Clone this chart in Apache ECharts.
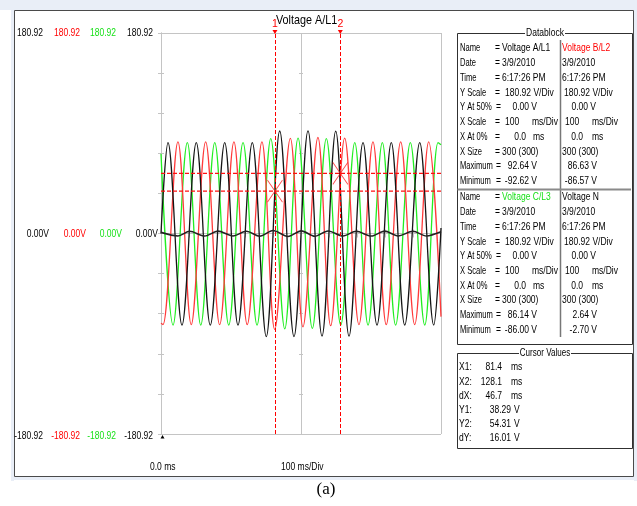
<!DOCTYPE html>
<html><head><meta charset="utf-8">
<script src="https://cdn.jsdelivr.net/npm/echarts@6/dist/echarts.min.js"></script>
<style>html,body{margin:0;padding:0;background:#fff}#c{width:637px;height:506px}</style>
</head><body><div id="c"></div><script>
// ---------- data ----------
const yScaleMax = 180.92;           // V per half-screen
const xMinMs = 0, xMaxMs = 200, xDivMs = 100;
const yTickValues = [180.92, 0, -180.92];

// Phase A/L1 (black): boundary points, peaks and troughs [ms]/[V]
const phaseA_t = [0, 5.0, 15.0, 25.2, 35.2, 45.5, 55.0, 65.2, 75.2, 84.8, 95.0, 105.0, 115.0, 124.8, 134.3, 144.3, 154.3, 164.5, 174.1, 184.8, 194.8, 200];
const phaseA_v = [0, 82, -82.6, 82, -82.6, 82, -82.6, 82, -93.0, 92.5, -93.0, 92.64, -92.5, 92.4, -92.62, 82, -82.6, 82, -82.6, 82, -82.6, 5];
// Phase B/L2 (red)
const phaseB_t = [0, 1.4, 12.1, 21.6, 31.9, 41.9, 52.1, 61.6, 72.1, 81.2, 92.4, 101.4, 112.1, 121.2, 131.2, 141.4, 151.4, 160.9, 171.2, 181.2, 191.2, 200];
const phaseB_v = [-81, -82.2, 82.6, -82.2, 82.6, -82.2, 82.6, -82.2, 82.6, -86.57, 85.8, -84.2, 86.63, -83.2, 86.0, -82.2, 82.6, -82.2, 82.6, -82.2, 82.6, -75];
// Phase C/L3 (green)
const phaseC_t = [0, 8.6, 18.8, 28.4, 38.4, 48.4, 58.6, 68.6, 78.4, 88.4, 97.9, 108.1, 118.1, 128.4, 138.4, 147.9, 158.1, 167.6, 178.1, 188.4, 197.9, 200];
const phaseC_v = [72, -82.6, 82, -82.6, 82, -82.6, 82, -82.6, 85.6, -86.0, 86.14, -85.6, 85.6, -82.6, 82, -82.6, 82, -82.6, 82, -82.6, 82, 80];
// Neutral N (black, small ripple)
const neutral_t = [0, 12.1, 20.5, 31.2, 40.7, 51.4, 61.0, 70.5, 80.0, 90.7, 100.2, 109.8, 119.3, 130.0, 139.5, 150.2, 159.8, 169.3, 180.0, 189.5, 200];
const neutral_v = [1.0, -2.2, 2.0, -2.3, 2.1, -2.2, 2.0, -2.4, 2.64, -2.70, 2.4, -2.5, 2.3, -2.2, 2.0, -2.3, 2.1, -2.2, 2.0, -2.3, 1.5];

// Cursors
const cursorX = [81.4, 128.1];
const cursorY = [38.29, 54.31];
const cursorNames = ['1', '2'];

// Datablock texts
const channelNames = ['Voltage A/L1', 'Voltage B/L2', 'Voltage C/L3', 'Voltage N'];
const channelColors = ['#000000', '#ff0000', '#18e018', '#000000'];
const dbLabels = ['Name', 'Date', 'Time', 'Y Scale', 'Y At 50%', 'X Scale', 'X At 0%', 'X Size', 'Maximum', 'Minimum'];
const dateStr = '3/9/2010';
const timeStr = '6:17:26 PM';
const yScaleStr = '180.92 V/Div';
const yAt50Str = '0.00 V';
const xScaleNum = '100', xScaleUnit = 'ms/Div';
const xAt0Num = '0.0', xAt0Unit = 'ms';
const xSizeStr = '300 (300)';
const chMax = ['92.64 V', '86.63 V', '86.14 V', '2.64 V'];
const chMin = ['-92.62 V', '-86.57 V', '-86.00 V', '-2.70 V'];
const cursorLabels = ['X1:', 'X2:', 'dX:', 'Y1:', 'Y2:', 'dY:'];
const cursorVals = ['81.4', '128.1', '46.7', '38.29', '54.31', '16.01'];
const cursorUnits = ['ms', 'ms', 'ms', 'V', 'V', 'V'];
const labelColColors = ['#000000', '#ff0000', '#18e018', '#000000'];
const bottomLabels = ['0.0 ms', '100 ms/Div'];
const plotTitle = 'Voltage A/L1';

// ---------- build ----------
const FONT = "'Liberation Sans', Arial, sans-serif";
const NARROW = 0.74;
const zip = (t, v) => t.map((x, i) => [x, v[i]]);
const GRID = {left: 161, top: 33, width: 280, height: 401};
const gray = '#c4c4c4';
const red = '#ff0000';

function plainY(pos, offset, inside, len, line, split) {
  return {type: 'value', min: -yScaleMax, max: yScaleMax, interval: yScaleMax, position: pos, offset: offset,
    axisLine: {show: line, lineStyle: {color: gray}},
    axisTick: {show: true, inside: inside, length: len, lineStyle: {color: gray}},
    minorTick: {show: true, splitNumber: 5, length: len, lineStyle: {color: gray}},
    splitLine: {show: split, lineStyle: {color: gray, width: 1}}, axisLabel: {show: false}};
}
const yAxes = [
  plainY('left', 0, true, 3, true, true),
  plainY('right', 0, true, 3, true, false),
  plainY('left', -140, true, 2, false, false),
  plainY('left', -140, false, 2, false, false)
];
function xAx(pos, split) {
  return {type: 'value', min: xMinMs, max: xMaxMs, interval: xDivMs, position: pos,
    axisLine: {show: true, lineStyle: {color: gray}},
    axisTick: {show: true, inside: true, length: 4, lineStyle: {color: gray}},
    minorTick: {show: true, splitNumber: 5, length: 4, lineStyle: {color: gray}},
    splitLine: {show: split, lineStyle: {color: gray}}, axisLabel: {show: false}};
}
function wave(name, t, v, color, w, smooth) {
  return {name: name, type: 'line', xAxisIndex: 0, yAxisIndex: 0, data: zip(t, v), showSymbol: false,
    smooth: smooth, lineStyle: {color: color, width: w}, itemStyle: {color: color}, silent: true};
}
function hCursor(name, y) {
  return {name: name, type: 'line', xAxisIndex: 0, yAxisIndex: 0, z: 4, silent: true, showSymbol: false,
    data: [[xMinMs, y], [xMaxMs, y]], lineStyle: {color: '#ff1010', width: 1.3, type: [4, 2], cap: 'butt'}, itemStyle: {color: red}};
}
const dashed = {color: red, type: [4, 2], width: 1};

const option = {
  animation: false,
  backgroundColor: '#ffffff',
  grid: Object.assign({outerBoundsMode: 'none', containLabel: false}, GRID),
  xAxis: [xAx('bottom', true), xAx('top', false)],
  yAxis: yAxes,
  series: [
    wave('Voltage C/L3', phaseC_t, phaseC_v, '#22ee22', 1.3, 0.36),
    wave('Voltage B/L2', phaseB_t, phaseB_v, '#ff3a3a', 1.3, 0.36),
    wave('Voltage A/L1', phaseA_t, phaseA_v, '#151515', 1.3, 0.36),
    wave('Voltage N', neutral_t, neutral_v, '#222222', 1.6, 0.3),
    hCursor('Y1', cursorY[0]),
    hCursor('Y2', cursorY[1]),
    {
      name: 'cursors', type: 'scatter', xAxisIndex: 0, yAxisIndex: 0, z: 5, silent: true,
      data: cursorX.map((x, i) => [x, cursorY[i]]),
      symbol: 'path://M0,0L10,10M10,0L0,10', symbolSize: [15, 22],
      itemStyle: {color: 'rgba(0,0,0,0)', borderColor: '#ff2020', borderWidth: 1},
      markLine: {
        silent: true, symbol: ['none', 'none'], label: {show: false}, lineStyle: dashed,
        data: [
          [{coord: [cursorX[0], -yScaleMax], lineStyle: dashed}, {coord: [cursorX[0], yScaleMax]}],
          [{coord: [cursorX[1], -yScaleMax], lineStyle: dashed}, {coord: [cursorX[1], yScaleMax]}]
        ]
      },
      markPoint: {
        silent: true,
        data: [
          {coord: [cursorX[0], yScaleMax], symbol: 'path://M0,0L10,0L5,8Z', symbolSize: [5, 4], symbolOffset: [0, -1], itemStyle: {color: red}, label: {show: false}},
          {coord: [cursorX[1], yScaleMax], symbol: 'path://M0,0L10,0L5,8Z', symbolSize: [5, 4], symbolOffset: [0, -1], itemStyle: {color: red}, label: {show: false}},
          {coord: [cursorX[0], yScaleMax], symbol: 'circle', symbolSize: 0.1, itemStyle: {color: 'rgba(0,0,0,0)'},
           label: {show: true, position: 'top', distance: 3, formatter: cursorNames[0], color: red, fontFamily: FONT, fontSize: 10.5}},
          {coord: [cursorX[1], yScaleMax], symbol: 'circle', symbolSize: 0.1, itemStyle: {color: 'rgba(0,0,0,0)'},
           label: {show: true, position: 'top', distance: 3, formatter: cursorNames[1], color: red, fontFamily: FONT, fontSize: 10.5}}
        ]
      }
    }
  ]
};
const chart = echarts.init(document.getElementById('c'), null, {renderer: 'canvas'});
chart.setOption(option);

// ---------- texts and panels (graphic) ----------
const G = [];
function T(x, y, text, color, align, size, sx, family) {
  align = align || 'left';
  G.push({type: 'text', x: x, y: y, scaleX: sx == null ? NARROW : sx, silent: true, z: 10,
    style: {x: 0, y: 0, text: text, fill: color || '#000', font: (size || 11.5) + 'px ' + (family || FONT),
            textAlign: align, textVerticalAlign: 'middle', align: align, verticalAlign: 'middle'}});
}
function R(x, y, w, h, fill, stroke, lw) {
  G.push({type: 'rect', silent: true, z: 9, shape: {x: x, y: y, width: w, height: h}, style: {fill: fill || 'none', stroke: stroke || null, lineWidth: lw || 1}});
}
function L(x1, y1, x2, y2, color, lw) {
  G.push({type: 'line', silent: true, z: 9, shape: {x1: x1, y1: y1, x2: x2, y2: y2}, style: {stroke: color, lineWidth: lw || 1}});
}

// window frame
R(0, 0, 637, 10, '#e9eef7');
R(11, 0, 3, 481, '#e9eef7');
R(634, 0, 3, 481, '#e9eef7');
R(11, 477, 626, 3, '#e9eef7');
R(14.5, 10.5, 619, 466, 'none', '#4a4a4a', 1);

// y tick labels in four coloured columns, placed through the y scale
const colNumEnd = [43, 80, 116, 153];
const colZeroEnd = [49, 86, 122, 158];
yTickValues.forEach(function (v) {
  const py = chart.convertToPixel({yAxisIndex: 0}, v);
  for (let c = 0; c < 4; c++) {
    if (Math.abs(v) < 1e-9) T(colZeroEnd[c], py, '0.00V', labelColColors[c], 'right');
    else T(colNumEnd[c], py + (v < 0 ? 2 : 0), v.toFixed(2), labelColColors[c], 'right');
  }
});
const yMinPx = chart.convertToPixel({yAxisIndex: 0}, -yScaleMax);
const x0Px = chart.convertToPixel({xAxisIndex: 0}, xMinMs);
G.push({type: 'polygon', silent: true, z: 10, shape: {points: [[x0Px - 0.5, yMinPx + 4.5], [x0Px + 3.5, yMinPx + 4.5], [x0Px + 1.5, yMinPx + 1]]}, style: {fill: '#000'}});

// plot title & bottom labels
T(276, 20, plotTitle, '#000', 'left', 13, 0.83);
T(150, 467, bottomLabels[0], '#000');
T(281, 467, bottomLabels[1], '#000');
T(326, 490, '(a)', '#000', 'center', 17, 1, "'Liberation Serif', serif");

// datablock
R(457.5, 33.5, 175, 311, 'none', '#303030', 1);
R(525, 27, 40, 12, '#fff');
T(545, 33, 'Datablock', '#000', 'center');
L(560.5, 40, 560.5, 337, '#777', 1.5);
L(457.5, 189.5, 631, 189.5, '#8a8a8a', 2);

function block(y0, step, li, ri) {
  for (let r = 0; r < dbLabels.length; r++) {
    const y = y0 + r * step;
    T(460, y, dbLabels[r], '#000', 'left', 11.5, 0.66);
    T(r === 4 || r === 8 || r === 9 ? 496 : 495, y, '=');
    if (r === 0) T(502, y, channelNames[li], channelColors[li]);
    if (r === 1) T(502, y, dateStr);
    if (r === 2) T(502, y, timeStr);
    if (r === 3) T(505, y, yScaleStr);
    if (r === 4) T(537, y, yAt50Str, '#000', 'right');
    if (r === 5) { T(505, y, xScaleNum); T(532, y, xScaleUnit); }
    if (r === 6) { T(526, y, xAt0Num, '#000', 'right'); T(533, y, xAt0Unit); }
    if (r === 7) T(502, y, xSizeStr);
    if (r === 8) T(537, y, chMax[li], '#000', 'right');
    if (r === 9) T(537, y, chMin[li], '#000', 'right');
    if (r === 0) T(562, y, channelNames[ri], channelColors[ri]);
    if (r === 1) T(562, y, dateStr);
    if (r === 2) T(562, y, timeStr);
    if (r === 3) T(564, y, yScaleStr);
    if (r === 4) T(596, y, yAt50Str, '#000', 'right');
    if (r === 5) { T(565, y, xScaleNum); T(592, y, xScaleUnit); }
    if (r === 6) { T(583, y, xAt0Num, '#000', 'right'); T(592, y, xAt0Unit); }
    if (r === 7) T(562, y, xSizeStr);
    if (r === 8) T(597, y, chMax[ri], '#000', 'right');
    if (r === 9) T(597, y, chMin[ri], '#000', 'right');
  }
}
block(48.3, 14.75, 0, 1);
block(197.3, 14.7, 2, 3);

// cursor values
R(457.5, 353.5, 175, 95, 'none', '#303030', 1);
R(519, 347, 52, 12, '#fff');
T(545, 353, 'Cursor Values', '#000', 'center', 11.5, 0.7);
for (let i = 0; i < cursorLabels.length; i++) {
  const y = 367.3 + i * 14.2;
  T(459, y, cursorLabels[i]);
  if (cursorUnits[i] === 'ms') { T(502, y, cursorVals[i], '#000', 'right'); T(511, y, cursorUnits[i]); }
  else { T(511, y, cursorVals[i], '#000', 'right'); T(514, y, cursorUnits[i]); }
}

chart.setOption({graphic: {elements: G}});
</script></body></html>
